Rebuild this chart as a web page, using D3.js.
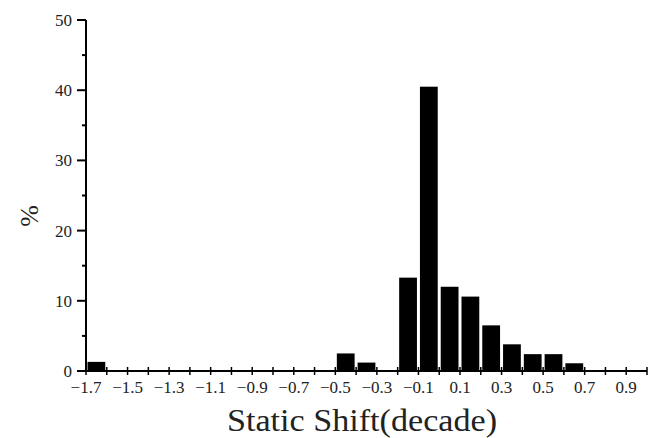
<!DOCTYPE html>
<html>
<head>
<meta charset="utf-8">
<script src="https://cdn.jsdelivr.net/npm/d3@7"></script>
<style>
    body { margin: 0; background: #fff; }
    svg text { font-family: "Liberation Serif", "DejaVu Serif", serif; fill: #222; }
</style>
</head>
<body>
<div id="chart"></div>
<script>
// histogram bins: lower edge of each 0.1-wide bin and its share in %
const binLow = [-1.7, -0.5, -0.4, -0.2, -0.1, 0.0, 0.1, 0.2, 0.3, 0.4, 0.5, 0.6];
const percent = [1.3, 2.5, 1.2, 13.3, 40.5, 12.0, 10.6, 6.5, 3.8, 2.4, 2.4, 1.1];
const binWidth = 0.1;

const xLabelTicks = [-1.7, -1.5, -1.3, -1.1, -0.9, -0.7, -0.5, -0.3, -0.1, 0.1, 0.3, 0.5, 0.7, 0.9];
const yMajorTicks = [0, 10, 20, 30, 40, 50];
const yMinorTicks = [5, 15, 25, 35, 45];

const width = 661, height = 438;
const margin = { top: 20, right: 14, bottom: 67, left: 86 };

const svg = d3.select("#chart").append("svg")
    .attr("width", width)
    .attr("height", height);

const x = d3.scaleLinear()
    .domain([-1.7, 1.0])
    .range([margin.left, width - margin.right]);

const y = d3.scaleLinear()
    .domain([0, 50])
    .range([height - margin.bottom, margin.top]);

// all 0.1 steps along the x axis
const xAllTicks = d3.range(0, 28).map(i => +(-1.7 + i * 0.1).toFixed(1));

// BARS
svg.append("g")
    .selectAll("rect")
    .data(binLow.map((d, i) => [d, percent[i]]))
    .join("rect")
    .attr("x", d => x(d[0]) + 1.5)
    .attr("width", d => x(d[0] + binWidth) - x(d[0]) - 3)
    .attr("y", d => y(d[1]))
    .attr("height", d => y(0) - y(d[1]))
    .attr("fill", "#000");

// X AXIS
const xAxis = svg.append("g")
    .attr("transform", "translate(0," + y(0) + ")");

xAxis.append("line")
    .attr("x1", x(-1.7)).attr("x2", x(1.0))
    .attr("stroke", "#000").attr("stroke-width", 2);

xAxis.selectAll(".xtick")
    .data(xAllTicks)
    .join("line")
    .attr("class", "xtick")
    .attr("x1", d => x(d)).attr("x2", d => x(d))
    .attr("y1", -4).attr("y2", 4)
    .attr("stroke", "#000").attr("stroke-width", 1.5);

xAxis.selectAll(".xlabel")
    .data(xLabelTicks)
    .join("text")
    .attr("class", "xlabel")
    .attr("x", d => x(d))
    .attr("y", 22)
    .attr("text-anchor", "middle")
    .style("font-size", "17px")
    .text(d => d3.format(".1f")(d));

// Y AXIS
const yAxis = svg.append("g")
    .attr("transform", "translate(" + x(-1.7) + ",0)");

yAxis.append("line")
    .attr("y1", y(0) + 1).attr("y2", y(50))
    .attr("stroke", "#000").attr("stroke-width", 2);

yAxis.selectAll(".ymajor")
    .data(yMajorTicks)
    .join("line")
    .attr("class", "ymajor")
    .attr("x1", -9).attr("x2", 0)
    .attr("y1", d => y(d)).attr("y2", d => y(d))
    .attr("stroke", "#000").attr("stroke-width", 2);

yAxis.selectAll(".yminor")
    .data(yMinorTicks)
    .join("line")
    .attr("class", "yminor")
    .attr("x1", -4).attr("x2", 0)
    .attr("y1", d => y(d)).attr("y2", d => y(d))
    .attr("stroke", "#000").attr("stroke-width", 2);

yAxis.selectAll(".ylabel")
    .data(yMajorTicks)
    .join("text")
    .attr("class", "ylabel")
    .attr("x", -14)
    .attr("y", d => y(d) + 6)
    .attr("text-anchor", "end")
    .style("font-size", "17px")
    .text(d => d);

// AXIS TITLES
svg.append("text")
    .attr("x", 362)
    .attr("y", 431)
    .attr("text-anchor", "middle")
    .attr("textLength", 270)
    .attr("lengthAdjust", "spacingAndGlyphs")
    .style("font-size", "31px")
    .text("Static Shift(decade)");

svg.append("text")
    .attr("transform", "translate(38,216) rotate(-90)")
    .attr("text-anchor", "middle")
    .style("font-size", "26px")
    .text("%");
</script>
</body>
</html>
